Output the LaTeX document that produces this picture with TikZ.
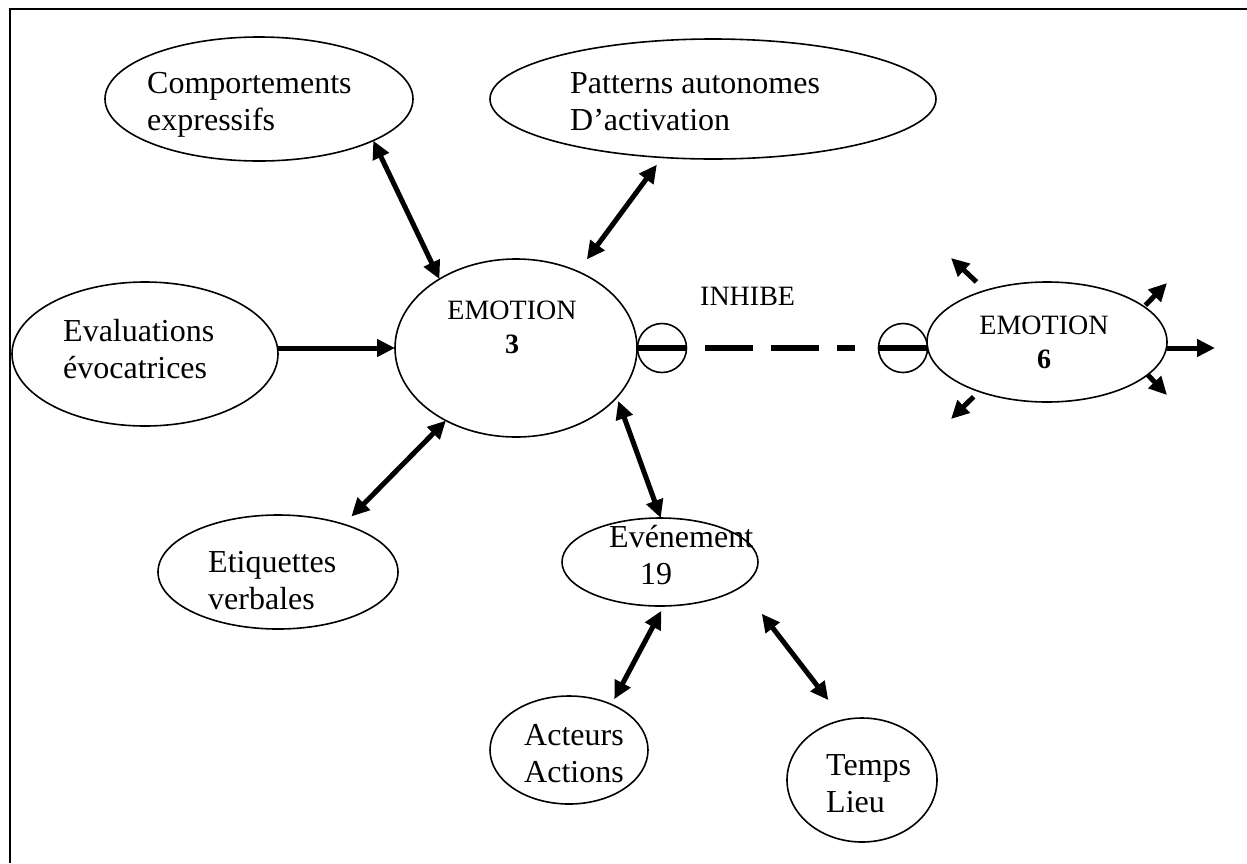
\documentclass[tikz,border=0pt]{standalone}
\usepackage{fontspec}
\setmainfont{Liberation Serif}
\usetikzlibrary{arrows.meta,shapes.geometric}
\begin{document}
\begin{tikzpicture}[x=1pt,y=-1pt,
  oval/.style={draw, ellipse, line width=1.6pt, inner sep=0pt, outer sep=0pt},
  txt/.style={font=\fontsize{32}{37}\selectfont, align=left, inner sep=0pt, anchor=base west},
  emo/.style={font=\fontsize{28}{33.5}\selectfont, align=center, inner sep=0pt, anchor=base},
  link/.style={line width=5pt, {Triangle[length=18pt,width=17pt]}-{Triangle[length=18pt,width=17pt]}},
  outarrow/.style={line width=5pt, -{Triangle[length=18pt,width=17pt]}},
  bar/.style={line width=6.5pt},
  ring/.style={draw, circle, line width=1.6pt, minimum size=49pt, inner sep=0pt, outer sep=0pt}
]
\useasboundingbox (0,0) rectangle (1247,863);
% frame
\draw[line width=2.5pt] (10,863) -- (10,9) -- (1247,9);

% ellipses
\node[oval, minimum width=308pt, minimum height=124pt] (comp) at (259,99) {};
\node[oval, minimum width=446pt, minimum height=120pt] (pat) at (713,99) {};
\node[oval, minimum width=266pt, minimum height=144pt] (eva) at (145,354) {};
\node[oval, minimum width=242pt, minimum height=178pt] (emo3) at (516,348) {};
\node[oval, minimum width=240pt, minimum height=120pt] (emo6) at (1047,342) {};
\node[oval, minimum width=196pt, minimum height=88pt] (eve) at (660,562) {};
\node[oval, minimum width=240pt, minimum height=114pt] (eti) at (278,572) {};
\node[oval, minimum width=158pt, minimum height=108pt] (act) at (569,750) {};
\node[oval, minimum width=150pt, minimum height=124pt] (tem) at (862,780) {};

% texts (base anchor = baseline of the last line)
\node[txt] (comp-t) at (147,130) {Comportements\\expressifs};
\node[txt] (pat-t) at (570,130) {Patterns autonomes\\D’activation};
\node[txt] (eva-t) at (63,378) {Evaluations\\évocatrices};
\node[txt] (eti-t) at (208,609) {Etiquettes\\verbales};
\node[txt] (eve-t) at (609,584) {Evénement\\\hspace*{31pt}19};
\node[txt] (act-t) at (524,782) {Acteurs\\Actions};
\node[txt] (tem-t) at (826,812) {Temps\\Lieu};
\node[emo] (emo3-t) at (512,353) {EMOTION\\\textbf{3}};
\node[emo] (emo6-t) at (1044,368) {EMOTION\\\textbf{6}};
\node[font=\fontsize{28}{34}\selectfont, anchor=base west, inner sep=0pt] (inh) at (700,305) {INHIBE};

% inhibition circles
\node[ring] (cL) at (662,348) {};
\node[ring] (cR) at (903,348) {};
\draw[bar] (cL.west) -- (cL.east);
\draw[bar] (cR.west) -- (cR.east);
\draw[bar, dash pattern=on 48pt off 18pt, shorten <=18.5pt, shorten >=23.5pt] (cL.east) -- (cR.west);

% connectors
\draw[link] (comp.-20.8) -- (emo3.138.3);
\draw[link, shorten <=15pt, shorten >=9pt] (emo3.51.2) -- (pat.229.9);
\draw[outarrow] (eva.east |- emo3.west) -- (emo3.west);
\draw[link, shorten >=11pt] (emo3.226.2) -- (eti.36.4);
\draw[link, shorten <=4pt] (emo3.-26.8) -- (eve.89);
\draw[link, shorten <=5.5pt, shorten >=6pt] (eve.-85) -- (act.47.9);
\draw[link, shorten <=34pt, shorten >=25pt] (eve.-17.2) -- (tem.107.6);

% outgoing arrows of EMOTION 6
\coordinate (o1) at (951,258);
\coordinate (o2) at (1167,283);
\coordinate (o3) at (1215,348);
\coordinate (o4) at (1167,395);
\coordinate (o5) at (951,419);
\draw[outarrow, shorten <=12.5pt] (emo6.140.3) -- (o1);
\draw[outarrow, shorten <=2pt] (emo6.20.2) -- (o2);
\draw[outarrow] (emo6.east |- cR.center) -- (o3);
\draw[outarrow] (emo6.-18) -- (o4);
\draw[outarrow, shorten <=7.5pt] (emo6.216.9) -- (o5);
\end{tikzpicture}
\end{document}
